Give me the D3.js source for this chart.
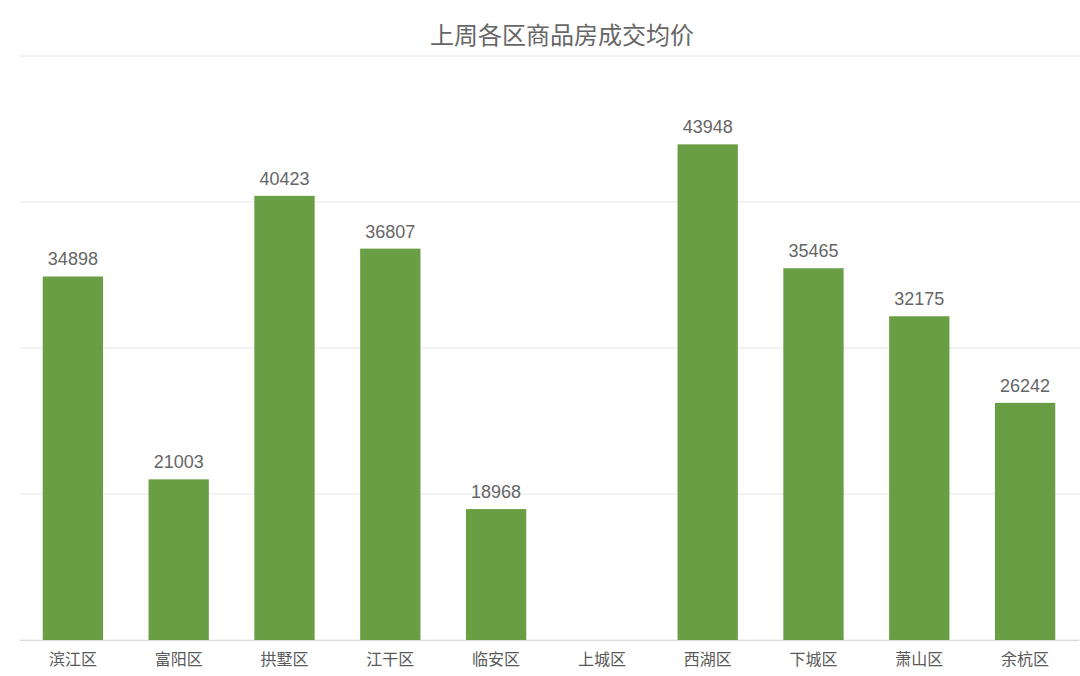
<!DOCTYPE html>
<meta charset="utf-8">
<script src="https://d3js.org/d3.v7.min.js"></script>
<style>body{margin:0;background:#fff}</style>
<div id="chart"></div>
<script>
var districts = ["滨江区","富阳区","拱墅区","江干区","临安区","上城区","西湖区","下城区","萧山区","余杭区"];
var prices = [34898, 21003, 40423, 36807, 18968, null, 43948, 35465, 32175, 26242];
var yTicks = [10000, 20000, 30000, 40000, 50000];

var W = 1080, H = 676;
var svg = d3.select("#chart").append("svg").attr("width", W).attr("height", H)
  .style("font-family", "'Noto Sans CJK SC', sans-serif");

var x = d3.scaleBand().domain(districts).range([20, 1078]).paddingInner(0.43).paddingOuter(0.215);
var y = d3.scaleLinear().domain([10000, 50000]).range([640, 56]);

// gridlines
svg.append("g").selectAll("line").data(yTicks).join("line")
  .attr("x1", 20).attr("x2", 1080)
  .attr("y1", d => y(d)).attr("y2", d => y(d))
  .attr("stroke", "#e6e6e6").attr("stroke-width", 1);

// x axis
var xa = svg.append("g").attr("transform", "translate(0,640)")
  .call(d3.axisBottom(x).tickSize(0).tickPadding(14));
xa.select(".domain").attr("stroke", "#d9d9d9");
xa.selectAll("text").attr("font-size", 16).attr("fill", "#595959")
  .style("font-family", "'Noto Sans CJK SC', sans-serif");

var data = districts.map((d, i) => ({name: d, v: prices[i]})).filter(d => d.v != null);

svg.append("g").selectAll("rect").data(data).join("rect")
  .attr("x", d => x(d.name)).attr("width", x.bandwidth())
  .attr("y", d => y(d.v)).attr("height", d => 640 - y(d.v))
  .attr("fill", "#6a9e44");

svg.append("g").selectAll("text").data(data).join("text")
  .attr("x", d => x(d.name) + x.bandwidth() / 2).attr("y", d => y(d.v) - 11)
  .attr("text-anchor", "middle").attr("font-size", 18).attr("fill", "#666")
  .style("font-family", "'Liberation Sans', Arial, sans-serif")
  .text(d => d.v);

svg.append("text").attr("x", 562).attr("y", 44).attr("text-anchor", "middle")
  .attr("font-size", 24).attr("fill", "#666").text("上周各区商品房成交均价");
</script>
